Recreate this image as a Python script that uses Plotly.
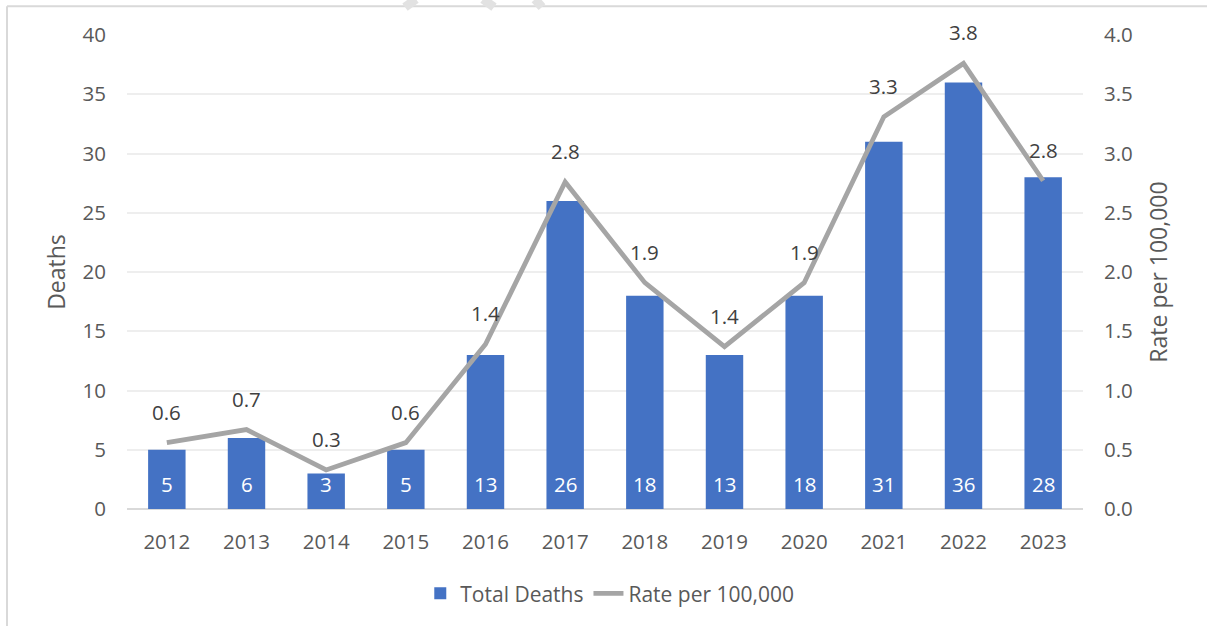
import plotly.graph_objects as go

# Annual data
years = ["2012", "2013", "2014", "2015", "2016", "2017",
         "2018", "2019", "2020", "2021", "2022", "2023"]
total_deaths = [5, 6, 3, 5, 13, 26, 18, 13, 18, 31, 36, 28]
rate_per_100k = [0.56, 0.67, 0.33, 0.56, 1.39, 2.76, 1.91, 1.37, 1.91, 3.31, 3.76, 2.77]

deaths_ticks = [0, 5, 10, 15, 20, 25, 30, 35, 40]
rate_ticks = [0.0, 0.5, 1.0, 1.5, 2.0, 2.5, 3.0, 3.5, 4.0]

BAR_BLUE = "#4472C4"
LINE_GREY = "#A5A5A5"
AXIS_TEXT = "#595959"
LABEL_TEXT = "#404040"
FONT = "Open Sans"

fig = go.Figure()

fig.add_trace(go.Bar(
    x=years, y=total_deaths, name="Total Deaths",
    marker=dict(color=BAR_BLUE, line=dict(width=0)),
    yaxis="y", hoverinfo="x+y",
))

fig.add_trace(go.Scatter(
    x=years, y=rate_per_100k, name="Rate per 100,000",
    mode="lines", line=dict(color=LINE_GREY, width=4.8),
    yaxis="y2", hoverinfo="x+y",
))

annotations = []
# Death counts sit near the base of each bar (x given as category index)
for i, d in enumerate(total_deaths):
    annotations.append(dict(
        x=i, y=0, xref="x", yref="y", text=str(d), showarrow=False,
        yshift=25, yanchor="middle",
        font=dict(family=FONT, size=20.5, color="white"),
    ))
# Rates labelled above each point of the line
for i, r in enumerate(rate_per_100k):
    annotations.append(dict(
        x=i, y=r, xref="x", yref="y2", text=f"{r:.1f}", showarrow=False,
        yshift=31, yanchor="middle",
        font=dict(family=FONT, size=20.5, color=LABEL_TEXT),
    ))

# Frame (left and top edges) and faint watermark strokes
shapes = [
    dict(type="line", xref="paper", yref="paper", x0=-0.1255, x1=-0.1255,
         y0=1.0609, y1=-0.3, line=dict(color="#D9D9D9", width=2)),
    dict(type="line", xref="paper", yref="paper", x0=-0.1255, x1=1.2,
         y0=1.0609, y1=1.0609, line=dict(color="#D9D9D9", width=2)),
    dict(type="line", xref="paper", yref="paper", x0=0.2908, x1=0.3023,
         y0=1.0588, y1=1.0756, line=dict(color="#E2E2E2", width=9)),
    dict(type="line", xref="paper", yref="paper", x0=0.3724, x1=0.3839,
         y0=1.0756, y1=1.0588, line=dict(color="#E2E2E2", width=9)),
    dict(type="line", xref="paper", yref="paper", x0=0.4268, x1=0.4341,
         y0=1.0756, y1=1.0588, line=dict(color="#E2E2E2", width=9)),
]

fig.update_layout(
    width=1207, height=626,
    margin=dict(l=127, r=124, t=35, b=115),
    paper_bgcolor="white", plot_bgcolor="white",
    font=dict(family=FONT, size=20, color=AXIS_TEXT),
    bargap=0.53,
    showlegend=True,
    legend=dict(orientation="h", x=0.505, y=-0.1786, xanchor="center",
                yanchor="middle", font=dict(family=FONT, size=21, color=AXIS_TEXT),
                bgcolor="rgba(0,0,0,0)"),
    xaxis=dict(
        type="category", range=[-0.5, len(years) - 0.5], autorange=False,
        showgrid=False, zeroline=False,
        showline=False, ticks="", ticklabelstandoff=18,
        tickfont=dict(family=FONT, size=20.5, color=AXIS_TEXT),
    ),
    yaxis=dict(
        range=[0, 40], tickvals=deaths_ticks, showgrid=True,
        gridcolor="#EEEEEE", gridwidth=1.5, zeroline=True,
        zerolinecolor="#D9D9D9", zerolinewidth=2, ticks="",
        ticklabelstandoff=20,
        tickfont=dict(family=FONT, size=20.5, color=AXIS_TEXT),
        title=dict(text="Deaths", standoff=10,
                   font=dict(family=FONT, size=23, color=AXIS_TEXT)),
    ),
    yaxis2=dict(
        range=[0, 4], tickvals=rate_ticks, tickformat=".1f",
        overlaying="y", side="right", showgrid=False, zeroline=False,
        ticks="", ticklabelstandoff=20,
        tickfont=dict(family=FONT, size=20.5, color=AXIS_TEXT),
        title=dict(text="Rate per 100,000", standoff=19,
                   font=dict(family=FONT, size=23, color=AXIS_TEXT)),
    ),
    annotations=annotations,
    shapes=shapes,
)

fig.write_html("out.html")
